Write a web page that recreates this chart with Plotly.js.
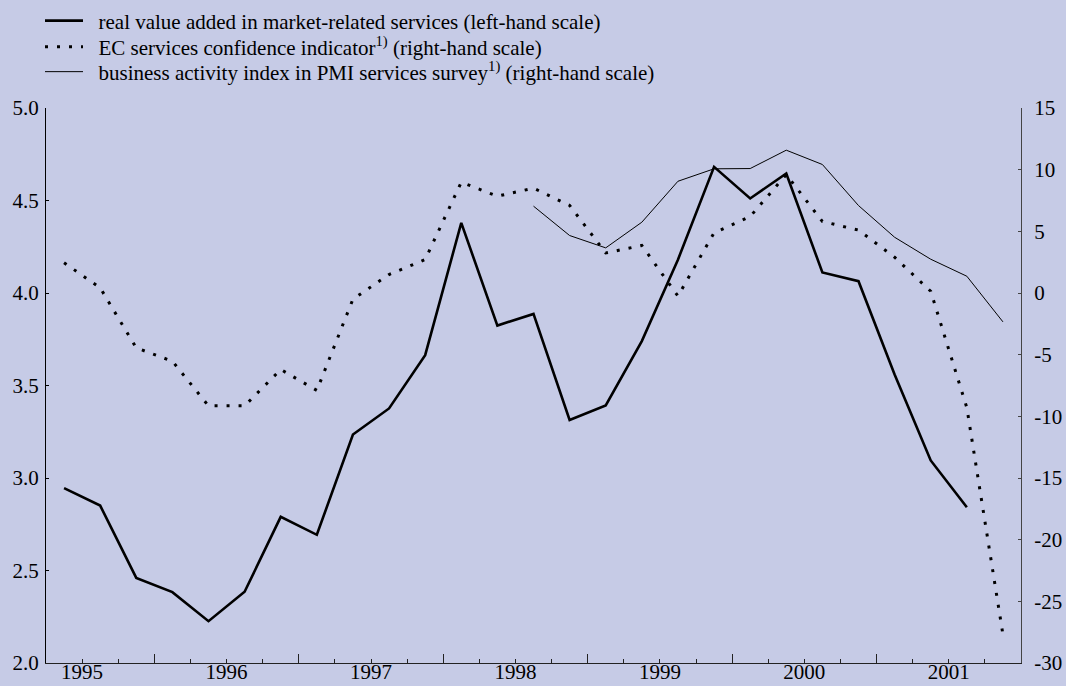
<!DOCTYPE html>
<html>
<head>
<meta charset="utf-8">
<script src="https://cdn.plot.ly/plotly-3.0.1.min.js"></script>
<style>
  html, body { margin: 0; padding: 0; background: #c6cbe6; }
  #chart { width: 1066px; height: 686px; }
</style>
</head>
<body>
<div id="chart"></div>
<script>
// ---- data (quarterly) ----
const quarters = [
  '1995Q2','1995Q3','1995Q4',
  '1996Q1','1996Q2','1996Q3','1996Q4',
  '1997Q1','1997Q2','1997Q3','1997Q4',
  '1998Q1','1998Q2','1998Q3','1998Q4',
  '1999Q1','1999Q2','1999Q3','1999Q4',
  '2000Q1','2000Q2','2000Q3','2000Q4',
  '2001Q1','2001Q2','2001Q3','2001Q4'
];
// real value added in market-related services (left-hand scale)
const realValueAdded = [
  2.945, 2.851, 2.46,
  2.383, 2.226, 2.385, 2.79,
  2.693, 3.235, 3.376, 3.664,
  4.379, 3.824, 3.887, 3.314,
  3.392, 3.74, 4.18, 4.682,
  4.511, 4.646, 4.111, 4.064,
  3.56, 3.095, 2.842
];
// EC services confidence indicator (right-hand scale)
const ecConfidence = [
  2.45, 0.42, -4.45,
  -5.53, -9.15, -9.15, -6.2,
  -7.9, -0.5, 1.5, 2.71,
  8.98, 7.85, 8.5, 7.1,
  3.25, 3.85, -0.25, 4.88,
  6.2, 9.6, 5.8, 5.1,
  2.9, 0.14, -9.3, -27.7
];
// business activity index in PMI services survey (right-hand scale)
const pmiActivity = [
  null, null, null,
  null, null, null, null,
  null, null, null, null,
  null, null, 7.04, 4.66,
  3.66, 5.74, 9.06, 10.07,
  10.09, 11.58, 10.42, 7.09,
  4.52, 2.74, 1.36, -2.34
];
const yearLabels = ['1995','1996','1997','1998','1999','2000','2001'];
const yearBoundaries = [1996, 1997, 1998, 1999, 2000, 2001];
const leftTicks = [2.0, 2.5, 3.0, 3.5, 4.0, 4.5, 5.0];
const rightTicks = [-30, -25, -20, -15, -10, -5, 0, 5, 10, 15];
const seriesNames = [
  'real value added in market-related services (left-hand scale)',
  'EC services confidence indicator<sup>1)</sup> (right-hand scale)',
  'business activity index in PMI services survey<sup>1)</sup> (right-hand scale)'
];

// quarter label -> position at the middle of the quarter (decimal years)
function quarterPos(q) {
  const yr = parseInt(q.slice(0, 4), 10);
  const n = parseInt(q.slice(5), 10);
  return yr + (n - 1) / 4 + 0.125;
}
const xq = quarters.map(quarterPos);

const FONT = 'Liberation Serif, "Times New Roman", Times, serif';
const FS = 21;
const BG = '#c6cbe6';
const GAP = '\u00a0\u00a0';
const xRange = [1995.25, 2002.0];

const traces = [
  {
    x: xq.slice(0, realValueAdded.length), y: realValueAdded,
    type: 'scatter', mode: 'lines', name: GAP + seriesNames[0],
    xaxis: 'x', yaxis: 'y', legend: 'legend',
    line: { color: '#000000', width: 2.6 }, hoverinfo: 'skip'
  },
  {
    x: xq, y: ecConfidence,
    type: 'scatter', mode: 'lines', name: GAP + seriesNames[1],
    xaxis: 'x', yaxis: 'y2', legend: 'legend2',
    line: { color: '#000000', width: 3, dash: '3px,9px' }, hoverinfo: 'skip'
  },
  {
    x: xq, y: pmiActivity,
    type: 'scatter', mode: 'lines', name: GAP + seriesNames[2],
    xaxis: 'x', yaxis: 'y2', legend: 'legend3', connectgaps: false,
    line: { color: '#000000', width: 1 }, hoverinfo: 'skip'
  },
  // empty helper trace so that the year-label axis is drawn
  {
    x: xRange, y: [null, null], type: 'scatter', mode: 'lines',
    xaxis: 'x2', yaxis: 'y', showlegend: false, hoverinfo: 'skip'
  }
];

function legendAt(yPx) {
  return {
    xref: 'container', yref: 'container',
    x: 40 / 1066, y: 1 - yPx / 686, xanchor: 'left', yanchor: 'middle',
    bgcolor: 'rgba(0,0,0,0)', borderwidth: 0, itemwidth: 38,
    font: { family: FONT, size: FS, color: '#000' }
  };
}

const layout = {
  width: 1066, height: 686,
  paper_bgcolor: BG, plot_bgcolor: BG,
  font: { family: FONT, size: FS, color: '#000' },
  margin: { l: 46, r: 45, t: 108, b: 23, pad: 0, autoexpand: false },
  showlegend: true,
  legend: legendAt(21),
  legend2: legendAt(47),
  legend3: legendAt(72),
  xaxis: {
    range: xRange, tickmode: 'array', tickvals: yearBoundaries,
    showticklabels: false,
    ticks: 'inside', ticklen: 9, tickwidth: 1, tickcolor: '#222',
    showline: true, linecolor: '#222', linewidth: 1,
    showgrid: false, zeroline: false, fixedrange: true,
    minor: { tick0: 1995.25, dtick: 0.25, ticks: 'inside', ticklen: 4,
             tickwidth: 1, tickcolor: '#222', showgrid: false }
  },
  xaxis2: {
    overlaying: 'x', anchor: 'y', side: 'bottom', range: xRange,
    tickmode: 'array', tickvals: yearLabels.map(y => parseInt(y, 10) + 0.5),
    ticktext: yearLabels, ticks: '', showline: false, showgrid: false,
    zeroline: false, fixedrange: true, ticklabelstandoff: -6,
    tickfont: { family: FONT, size: FS, color: '#000' }
  },
  yaxis: {
    range: [2, 5], tickmode: 'array', tickvals: leftTicks,
    ticktext: leftTicks.map(v => v.toFixed(1)),
    ticks: 'inside', ticklen: 3, tickwidth: 1, tickcolor: '#000',
    showline: true, linecolor: '#000', linewidth: 1,
    showgrid: false, zeroline: false, fixedrange: true,
    ticklabelstandoff: 2,
    tickfont: { family: FONT, size: FS, color: '#000' }
  },
  yaxis2: {
    overlaying: 'y', side: 'right', anchor: 'x', range: [-30, 15],
    tickmode: 'array', tickvals: rightTicks, ticktext: rightTicks.map(v => String(v)),
    ticks: 'inside', ticklen: 3, tickwidth: 1, tickcolor: '#444',
    showline: true, linecolor: '#444', linewidth: 1,
    showgrid: false, zeroline: false, fixedrange: true,
    ticklabelstandoff: 8,
    tickfont: { family: FONT, size: FS, color: '#000' }
  }
};

Plotly.newPlot('chart', traces, layout, { displayModeBar: false, staticPlot: true });
</script>
</body>
</html>
